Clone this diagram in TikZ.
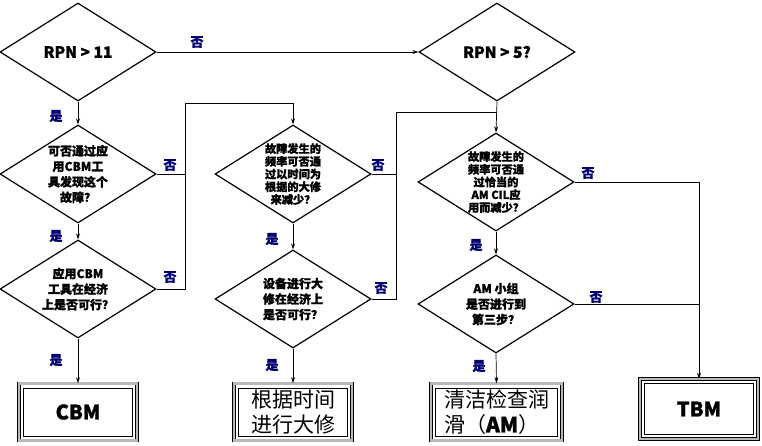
\documentclass[tikz,border=0pt]{standalone}
\usepackage{fontspec}
\setmainfont{Noto Sans CJK SC}[BoldFeatures={FakeBold=1.2}]
\usetikzlibrary{shapes.geometric,arrows.meta}
\begin{document}
\begin{tikzpicture}[x=1pt, y=-1pt,
  decision/.style = {shape=diamond, draw, line width=1.2pt,
    minimum width=156pt, minimum height=98pt, inner sep=0pt},
  dtext/.style = {align=center, inner sep=0pt,
    font=\bfseries\fontsize{12}{15.5}\selectfont},
  stext/.style = {align=center, inner sep=0pt,
    font=\bfseries\fontsize{11.2}{12.7}\selectfont},
  result/.style = {shape=rectangle, draw, line width=0.6pt,
    double=gray!55, double distance=2.4pt, inner sep=0pt,
    minimum width=118pt, minimum height=57pt,
    path picture={\draw[line width=0.6pt]
      ([shift={(4.6pt,-4.6pt)}]path picture bounding box.north west) rectangle
      ([shift={(-4.6pt,4.6pt)}]path picture bounding box.south east);}},
  lbl/.style = {text=blue!45!black, inner sep=0pt,
    font=\bfseries\fontsize{13}{13}\selectfont},
  flow/.style = {draw, line width=0.7pt, -{Stealth[length=6pt,width=4pt]}},
  link/.style = {draw, line width=0.7pt}]
  \useasboundingbox (0,0) rectangle (762,445);
  % decisions
  \node[decision] (rpn11) at (78,52) {};
  \node[decision] (rpn5) at (497,52) {};
  \node[decision] (cbmtool) at (78,174) {};
  \node[decision] (cbmcost) at (78,289) {};
  \node[decision] (tbo) at (293,174) {};
  \node[decision] (tbocost) at (293,299) {};
  \node[decision] (amcil) at (496,182) {};
  \node[decision] (amstep) at (496,304) {};
  \node[dtext, font=\bfseries\fontsize{15.5}{18}\selectfont] (t11) at (rpn11) {RPN~>~11};
  \node[dtext, font=\bfseries\fontsize{15.5}{18}\selectfont] (t5) at (rpn5) {RPN~>~5?};
  \node[dtext] (tcbmtool) at (cbmtool) {可否通过应\\用CBM工\\具发现这个\\故障？};
  \node[dtext] (tcbmcost) at (cbmcost) {应用CBM\\工具在经济\\上是否可行？};
  \node[stext] (ttbo) at (tbo) {故障发生的\\频率可否通\\过以时间为\\根据的大修\\来减少？};
  \node[dtext] (ttbocost) at (tbocost) {设备进行大\\修在经济上\\是否可行？};
  \node[stext] (tamcil) at (amcil) {故障发生的\\频率可否通\\过恰当的\\AM CIL应\\用而减少？};
  \node[dtext] (tamstep) at (amstep) {AM 小组\\是否进行到\\第三步？};
  % results
  \node[result, font=\bfseries\fontsize{20}{24}\selectfont] (cbm) at (78,412) {CBM};
  \node[result, align=center, font=\fontsize{21}{25}\selectfont] (tbox) at (293,412) {根据时间\\进行大修};
  \node[result, align=left, minimum width=131pt, font=\fontsize{21}{25}\selectfont] (am) at (496.5,412) {清洁检查润\\滑（{\bfseries AM}）};
  \node[result, minimum height=60pt, font=\bfseries\fontsize{20}{24}\selectfont] (tbm) at (699,409) {TBM};
  % connectors
  \coordinate (j1) at (185,103);
  \coordinate (j2) at (396,112);
  \path[flow] (rpn11.east) -- (rpn5.west);
  \path[flow] (rpn11.south) -- (cbmtool.north);
  \path[flow] (cbmtool.south) -- (cbmcost.north);
  \path[flow] (cbmcost.south) -- (cbm.north);
  \path[link] (cbmtool.east) -- (cbmtool.east -| j1);
  \path[flow] (cbmcost.east) -| (j1) -| (tbo.north);
  \path[flow] (tbo.south) -- (tbocost.north);
  \path[flow] (tbocost.south) -- (tbox.north);
  \path[link] (tbo.east) -- (tbo.east -| j2);
  \path[link] (tbocost.east) -| (j2) -- (j2 -| rpn5.south);
  \path[flow] (rpn5.south) -- (amcil.north);
  \path[flow] (amcil.south) -- (amstep.north);
  \path[flow] (amstep.south) -- (am.north);
  \path[flow] (amcil.east) -| (tbm.north);
  \path[link] (amstep.east) -- (amstep.east -| tbm.north);
  % labels
  \node[lbl] (no11) at (197,42) {否};
  \node[lbl] (yes11) at (56,116) {是};
  \node[lbl] (nocbmtool) at (170,165) {否};
  \node[lbl] (yescbmtool) at (56,236) {是};
  \node[lbl] (nocbmcost) at (170,277) {否};
  \node[lbl] (yescbmcost) at (56,360) {是};
  \node[lbl] (notbo) at (378,165) {否};
  \node[lbl] (yestbo) at (272,239) {是};
  \node[lbl] (notbocost) at (381,288) {否};
  \node[lbl] (yestbocost) at (272,365) {是};
  \node[lbl] (noamcil) at (588,173) {否};
  \node[lbl] (yesamcil) at (476,245) {是};
  \node[lbl] (noamstep) at (596,297) {否};
  \node[lbl] (yesamstep) at (479,366) {是};
\end{tikzpicture}
\end{document}
